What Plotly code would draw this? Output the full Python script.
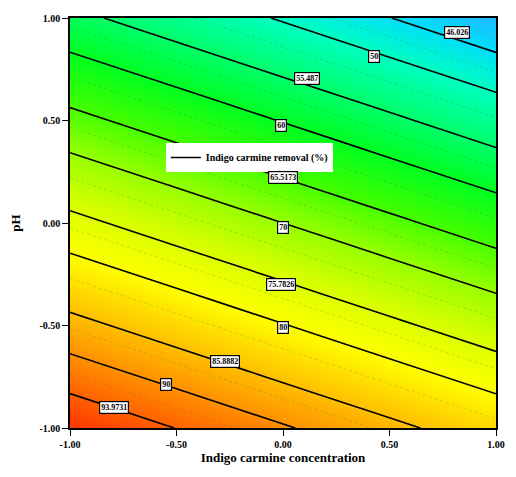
import plotly.graph_objects as go

# Coded factor grid
conc = [-1.0, -0.5, 0.0, 0.5, 1.0]          # Indigo carmine concentration
ph = [-1.0, -0.5, 0.0, 0.5, 1.0]            # pH
# Estimated removal (%) at grid nodes, rows = pH, cols = concentration
removal = [
    [97.4, 93.9, 90.4, 86.9, 83.4],
    [87.2, 83.7, 80.2, 76.7, 73.2],
    [77.0, 73.5, 70.0, 66.5, 63.0],
    [66.8, 63.3, 59.8, 56.3, 52.8],
    [56.6, 53.1, 49.6, 46.1, 42.6],
]
levels = [46.026, 50, 55.487, 60, 65.5173, 70, 75.7826, 80, 85.8882, 90, 93.9731]
level_labels = ["46.026", "50", "55.487", "60", "65.5173", "70", "75.7826", "80", "85.8882", "90", "93.9731"]
label_conc = [0.816, 0.425, 0.113, -0.011, 0.002, -0.002, -0.011, -0.002, -0.274, -0.549, -0.793]
label_ph = [0.927, 0.810, 0.707, 0.478, 0.220, -0.024, -0.302, -0.512, -0.678, -0.790, -0.898]
minor_levels = [48, 52.5, 57.5, 62.5, 67.5, 72.5, 77.5, 82.5, 87.5, 92, 96]

zmin, zmax = 42.6, 97.4
stops = [(42.6, "#20b8ff"), (46, "#00e0f8"), (50, "#00ffc0"), (55, "#00ff70"),
         (60, "#00ff20"), (65, "#40ff00"), (70, "#98ff00"), (75, "#d8ff00"),
         (80, "#ffff00"), (85, "#ffc800"), (90, "#ff9000"), (94, "#ff6000"),
         (97.4, "#ff3400")]
colorscale = [[(v - zmin) / (zmax - zmin), c] for v, c in stops]

fig = go.Figure()
fig.add_trace(go.Heatmap(x=conc, y=ph, z=removal, zmin=zmin, zmax=zmax,
                         colorscale=colorscale, zsmooth="best", showscale=False,
                         hoverinfo="skip"))
for lv in minor_levels:
    fig.add_trace(go.Contour(x=conc, y=ph, z=removal, showscale=False,
                             contours=dict(coloring="none", start=lv, end=lv, size=1),
                             line=dict(color="rgba(0,90,0,0.18)", width=1, dash="dot"),
                             hoverinfo="skip", showlegend=False))
for lv in levels:
    fig.add_trace(go.Contour(x=conc, y=ph, z=removal, showscale=False,
                             contours=dict(coloring="none", start=lv, end=lv, size=1),
                             line=dict(color="black", width=1.6),
                             hoverinfo="skip", showlegend=False))
fig.add_trace(go.Scatter(x=[None], y=[None], mode="lines",
                         line=dict(color="black", width=1.5),
                         name="<b>Indigo carmine removal (%)</b>"))

for txt, xa, ya in zip(level_labels, label_conc, label_ph):
    fig.add_annotation(x=xa, y=ya, text="<b>" + txt + "</b>", showarrow=False,
                       font=dict(family="Liberation Serif", size=8, color="black"),
                       bgcolor="white", bordercolor="black", borderwidth=1.2, borderpad=1)

tickvals = [-1, -0.5, 0, 0.5, 1]
ticktext = ["<b>-1.00</b>", "<b>-0.50</b>", "<b>0.00</b>", "<b>0.50</b>", "<b>1.00</b>"]
axfont = dict(family="Liberation Serif", size=10, color="black")
fig.update_xaxes(range=[-1, 1], tickvals=tickvals, ticktext=ticktext, ticks="outside",
                 ticklen=6, tickcolor="black", showline=True, linecolor="black",
                 linewidth=1.5, mirror=True, showgrid=False, zeroline=False,
                 tickfont=axfont,
                 title=dict(text="<b>Indigo carmine concentration</b>",
                            font=dict(family="Liberation Serif", size=13, color="black"),
                            standoff=4))
fig.update_yaxes(range=[-1, 1], tickvals=tickvals, ticktext=ticktext, ticks="outside",
                 ticklen=6, tickcolor="black", showline=True, linecolor="black",
                 linewidth=1.5, mirror=True, showgrid=False, zeroline=False,
                 tickfont=axfont,
                 title=dict(text="<b>pH</b>",
                            font=dict(family="Liberation Serif", size=13, color="black"),
                            standoff=16))
fig.update_layout(width=516, height=477, margin=dict(l=70, r=11, t=18, b=49),
                  paper_bgcolor="white", plot_bgcolor="white",
                  legend=dict(x=0.225, y=0.695, xanchor="left", yanchor="top",
                              bgcolor="white", borderwidth=0,
                              font=dict(family="Liberation Serif", size=10, color="black"),
                              itemwidth=30, tracegroupgap=0),
                  showlegend=True)
fig.write_html("out.html")
